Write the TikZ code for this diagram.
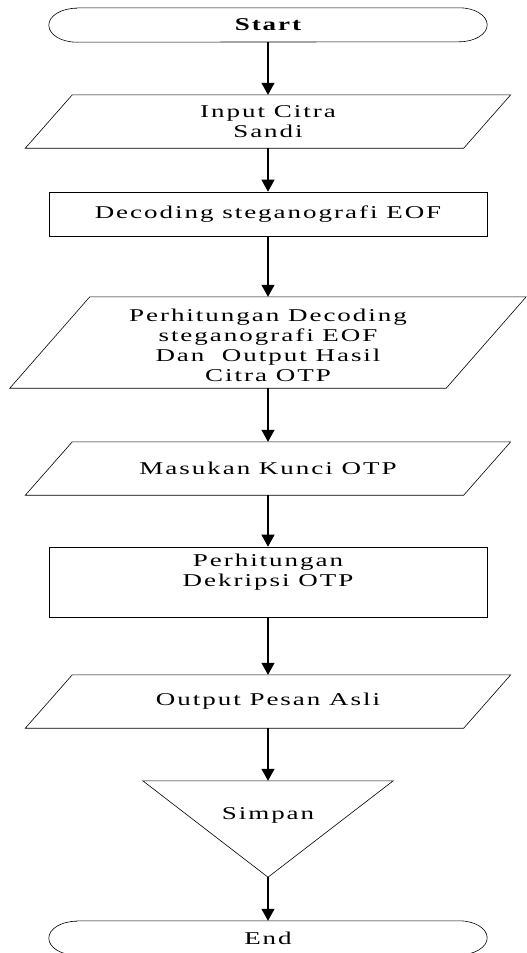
\documentclass[tikz,border=0pt]{standalone}
\usepackage{fontspec}
\setmainfont{Liberation Serif}[FakeStretch=1.5,LetterSpace=11]
\usetikzlibrary{arrows.meta}

\tikzset{
  txt/.style={align=center, inner sep=0pt, font=\fontsize{18}{20}\selectfont},
  blk/.style={txt, minimum width=438pt, minimum height=53pt},
  proc/.style={blk, draw, line width=0.6pt},
  outline/.style={line width=0.6pt},
  flow/.style={line width=1.2pt, -{Triangle[width=13pt,length=12pt]}}
}

\begin{document}
\begin{tikzpicture}[x=1pt,y=1pt]
        \newcommand{\ax}{268}
        \useasboundingbox (0,0) rectangle (527,-953);

        \node[blk, minimum height=34pt] (start) at (\ax,-25) {\bfseries Start};
        \node[blk] (input) at (\ax,-121.5) {Input Citra\\Sandi};
        \node[proc, minimum height=44pt] (decode) at (\ax,-214) {Decoding steganografi EOF};
        \node[blk, minimum width=436pt, minimum height=91pt] (hitung) at (\ax,-342.5) {};
        \node[txt] (hitungtext) at (\ax,-345) {Perhitungan Decoding\\steganografi EOF\\Dan~ Output Hasil\\Citra OTP};
        \node[blk] (kunci) at (\ax,-468.5) {Masukan Kunci OTP};
        \node[proc, minimum height=70pt] (dekripsi) at (\ax,-582) {};
        \node[txt] (dektext) at (\ax,-572) {Perhitungan\\Dekripsi OTP};
        \node[blk] (pesan) at (\ax,-701.5) {Output Pesan Asli};
        \node[blk, minimum width=250pt, minimum height=96pt] (simpan) at (\ax,-829) {};
        \node[txt] (simtext) at (\ax,-815) {Simpan};
        \node[blk, minimum height=34pt] (stop) at (\ax,-938) {End};

        % terminals
        \foreach \n in {start,stop}
            \draw[outline] ([xshift=28]\n.north west) -- ([xshift=-28]\n.north east)
                arc[start angle=90,end angle=-90,x radius=28,y radius=17]
                -- ([xshift=28]\n.south west)
                arc[start angle=270,end angle=90,x radius=28,y radius=17] -- cycle;

        % input / output
        \foreach \n/\s in {input/23.5,hitung/40,kunci/23.5,pesan/23.5}
            \draw[outline] ([xshift=\s]\n.north west) -- ([xshift=\s]\n.north east)
                -- ([xshift=-\s]\n.south east) -- ([xshift=-\s]\n.south west) -- cycle;

        \draw[outline] (simpan.north west) -- (simpan.north east) -- (simpan.south) -- cycle; %simpan

        \foreach \a/\b in {start/input,input/decode,decode/hitung,hitung/kunci,
                kunci/dekripsi,dekripsi/pesan,pesan/simpan,simpan/stop}
            \draw[flow] (\a) -- (\b);
    \end{tikzpicture}
\end{document}
